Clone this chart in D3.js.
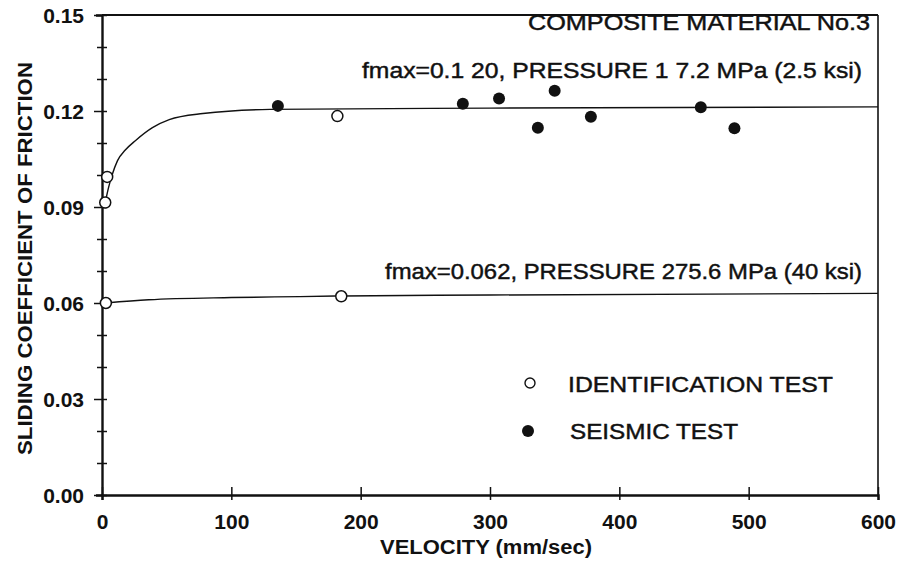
<!DOCTYPE html>
<html>
<head>
<meta charset="utf-8">
<script src="https://cdn.jsdelivr.net/npm/d3@7"></script>
<style>
  html, body { margin: 0; padding: 0; background: #fff; }
  svg { display: block; font-family: "Liberation Sans", Arial, Helvetica, sans-serif; }
  .tick text { font-family: "Liberation Sans", Arial, Helvetica, sans-serif; }
</style>
</head>
<body>
<svg id="chart" width="903" height="561"></svg>
<script>
// Axis ticks
const velocityTicks = [0, 100, 200, 300, 400, 500, 600];
const frictionTicks = [0.00, 0.03, 0.06, 0.09, 0.12, 0.15];
const frictionMinorTicks = [0.01, 0.02, 0.04, 0.05, 0.07, 0.08, 0.10, 0.11, 0.13, 0.14];

// Identification tests (open circles)
const idVelocity = [2.5, 4, 182, 3, 185];
const idFriction = [0.0914, 0.0994, 0.1184, 0.0600, 0.0621];

// Seismic tests (filled circles)
const seisVelocity = [136, 279, 307, 337, 350, 378, 463, 489];
const seisFriction = [0.1216, 0.1223, 0.1239, 0.1148, 0.1263, 0.1182, 0.1212, 0.1146];

// Fitted friction-velocity curve, 17.2 MPa
const upperFitVelocity = [2.5, 5, 7.8, 12, 18, 26, 39, 52, 78, 130, 300, 600];
const upperFitFriction = [0.0914, 0.0960, 0.1000, 0.1045, 0.1078, 0.1108, 0.1148, 0.1173, 0.1192, 0.1205, 0.1209, 0.1213];

// Fitted friction-velocity curve, 275.6 MPa
const lowerFitVelocity = [3, 36, 100, 153, 186, 300, 600];
const lowerFitFriction = [0.0600, 0.0610, 0.0617, 0.0620, 0.0622, 0.0625, 0.0630];

// Annotation text
const materialLabel = "COMPOSITE MATERIAL No.3";
const upperCurveLabel = "fmax=0.1 20, PRESSURE 1 7.2 MPa (2.5 ksi)";
const lowerCurveLabel = "fmax=0.062, PRESSURE 275.6 MPa (40 ksi)";
const legendLabels = ["IDENTIFICATION TEST", "SEISMIC TEST"];
const xTitle = "VELOCITY (mm/sec)";
const yTitle = "SLIDING COEFFICIENT OF FRICTION";

const svg = d3.select("#chart");
const plotLeft = 102, plotRight = 878, plotTop = 15, plotBottom = 495;
const ink = "#111";

const x = d3.scaleLinear().domain([0, 600]).range([plotLeft, plotRight]);
const y = d3.scaleLinear().domain([0, 0.15]).range([plotBottom, plotTop]);

// Frame: top and right borders
svg.append("line").attr("x1", plotLeft).attr("x2", plotRight).attr("y1", plotTop).attr("y2", plotTop)
  .attr("stroke", ink).attr("stroke-width", 2.2);
svg.append("line").attr("x1", plotRight).attr("x2", plotRight).attr("y1", plotTop).attr("y2", plotBottom)
  .attr("stroke", ink).attr("stroke-width", 1.6);

// Bottom axis
const xAxis = svg.append("g").attr("transform", `translate(0,${plotBottom})`)
  .call(d3.axisBottom(x).tickValues(velocityTicks).tickFormat(d3.format("d")).tickSizeOuter(0).tickSize(5).tickPadding(14));
xAxis.select(".domain").attr("stroke", ink).attr("stroke-width", 2.4);
xAxis.selectAll(".tick line").attr("y1", -8).attr("y2", 5).attr("stroke", ink).attr("stroke-width", 1.5);
xAxis.selectAll(".tick text").attr("fill", ink).attr("font-size", 21).attr("font-weight", "bold");

// Left axis, major ticks with labels
const yAxis = svg.append("g").attr("transform", `translate(${plotLeft},0)`)
  .call(d3.axisLeft(y).tickValues(frictionTicks).tickFormat(d3.format(".2f")).tickSizeOuter(0).tickSize(6).tickPadding(12));
yAxis.select(".domain").attr("stroke", ink).attr("stroke-width", 2.4);
yAxis.selectAll(".tick line").attr("x1", -8).attr("x2", 5).attr("stroke", ink).attr("stroke-width", 1.5);
yAxis.selectAll(".tick text").attr("fill", ink).attr("font-size", 21).attr("font-weight", "bold").attr("dy", "0.36em");

// Left axis, minor ticks
const yMinor = svg.append("g").attr("transform", `translate(${plotLeft},0)`)
  .call(d3.axisLeft(y).tickValues(frictionMinorTicks).tickFormat("").tickSizeOuter(0).tickSize(5));
yMinor.select(".domain").remove();
yMinor.selectAll(".tick line").attr("x1", -5).attr("x2", 5).attr("stroke", ink).attr("stroke-width", 1.5);

// Fitted curves
const line = d3.line().x(d => x(d[0])).y(d => y(d[1])).curve(d3.curveMonotoneX);
svg.append("path").datum(d3.zip(upperFitVelocity, upperFitFriction))
  .attr("d", line).attr("fill", "none").attr("stroke", ink).attr("stroke-width", 1.4);
svg.append("path").datum(d3.zip(lowerFitVelocity, lowerFitFriction))
  .attr("d", line).attr("fill", "none").attr("stroke", ink).attr("stroke-width", 1.4);

// Data points
svg.append("g").selectAll("circle").data(d3.zip(idVelocity, idFriction)).join("circle")
  .attr("cx", d => x(d[0])).attr("cy", d => y(d[1])).attr("r", 5.5)
  .attr("fill", "#fff").attr("stroke", ink).attr("stroke-width", 1.5);
svg.append("g").selectAll("circle").data(d3.zip(seisVelocity, seisFriction)).join("circle")
  .attr("cx", d => x(d[0])).attr("cy", d => y(d[1])).attr("r", 6)
  .attr("fill", ink);

// Annotations
const note = (txt, xx, yy, anchor, size, len) => svg.append("text")
  .attr("x", xx).attr("y", yy).attr("text-anchor", anchor)
  .attr("font-size", size).attr("fill", ink)
  .attr("stroke", ink).attr("stroke-width", 0.45)
  .attr("textLength", len).attr("lengthAdjust", "spacingAndGlyphs")
  .text(txt);

note(materialLabel, 528, 30, "start", 22, 342);
note(upperCurveLabel, 362, 78, "start", 22, 500);
note(lowerCurveLabel, 385, 279, "start", 22, 477);

// Legend
svg.append("circle").attr("cx", 530).attr("cy", 383).attr("r", 5)
  .attr("fill", "#fff").attr("stroke", ink).attr("stroke-width", 1.4);
svg.append("circle").attr("cx", 528).attr("cy", 431).attr("r", 6).attr("fill", ink);
note(legendLabels[0], 568, 392, "start", 22, 265);
note(legendLabels[1], 570, 439, "start", 22, 168);

// Axis titles
svg.append("text").attr("x", 380).attr("y", 554)
  .attr("font-size", 20).attr("font-weight", "bold").attr("fill", ink)
  .attr("textLength", 212).attr("lengthAdjust", "spacingAndGlyphs").text(xTitle);
svg.append("text").attr("transform", "translate(32,455) rotate(-90)")
  .attr("font-size", 21).attr("font-weight", "bold").attr("fill", ink)
  .attr("textLength", 393).attr("lengthAdjust", "spacingAndGlyphs").text(yTitle);
</script>
</body>
</html>
